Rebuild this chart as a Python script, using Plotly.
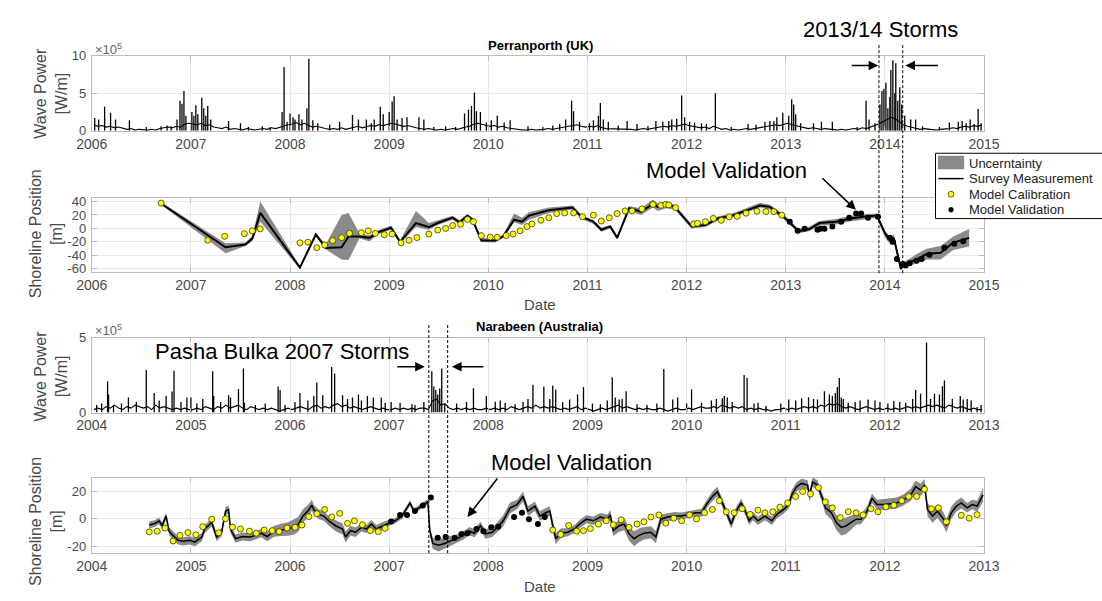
import plotly.graph_objects as go

W, H = 1102, 601
FONT = "Liberation Sans, Arial, Helvetica, sans-serif"
TXT = "#4a4a4a"

# ---------------- Perranporth (UK) ----------------
# background wave power, 24 samples per year (x1e5 W/m)
perran_years = list(range(2006, 2015))
perran_wp_bg = [
    [0.8, 0.6, 0.7, 0.5, 0.6, 0.4, 0.5, 0.3, 0.2, 0.3, 0.1, 0.2, 0.1, 0.1, 0.2, 0.1, 0.3, 0.4, 0.5, 0.4, 0.6, 0.5, 0.9, 1.0],
    [0.9, 0.8, 1.0, 0.7, 0.8, 0.5, 0.4, 0.3, 0.5, 0.2, 0.3, 0.2, 0.1, 0.3, 0.2, 0.1, 0.2, 0.3, 0.2, 0.4, 0.3, 0.5, 0.6, 0.8],
    [0.9, 1.1, 0.8, 1.0, 0.7, 0.5, 0.6, 0.4, 0.3, 0.2, 0.3, 0.2, 0.4, 0.2, 0.3, 0.5, 0.6, 0.4, 0.5, 0.7, 0.6, 0.8, 0.7, 0.9],
    [1.0, 0.9, 0.8, 0.6, 0.7, 0.5, 0.4, 0.3, 0.2, 0.3, 0.2, 0.1, 0.2, 0.1, 0.2, 0.3, 0.2, 0.4, 0.5, 0.6, 0.9, 1.0, 0.8, 0.7],
    [0.6, 0.7, 0.5, 0.6, 0.4, 0.3, 0.2, 0.2, 0.1, 0.1, 0.2, 0.1, 0.1, 0.2, 0.3, 0.2, 0.3, 0.4, 0.5, 0.6, 0.7, 0.8, 0.6, 0.5],
    [0.6, 0.5, 0.7, 0.4, 0.3, 0.3, 0.2, 0.3, 0.2, 0.3, 0.2, 0.1, 0.2, 0.3, 0.2, 0.3, 0.4, 0.5, 0.6, 0.5, 0.7, 0.6, 0.8, 0.9],
    [0.7, 0.6, 0.5, 0.4, 0.5, 0.3, 0.6, 0.4, 0.2, 0.3, 0.1, 0.2, 0.1, 0.2, 0.3, 0.2, 0.3, 0.4, 0.5, 0.6, 0.7, 0.8, 0.7, 0.9],
    [1.0, 0.8, 0.7, 0.5, 0.4, 0.3, 0.4, 0.3, 0.2, 0.3, 0.2, 0.1, 0.1, 0.2, 0.1, 0.2, 0.3, 0.2, 0.4, 0.3, 0.5, 0.6, 0.9, 1.2],
    [1.5, 1.8, 1.6, 1.2, 0.8, 0.6, 0.5, 0.3, 0.2, 0.3, 0.2, 0.1, 0.1, 0.2, 0.2, 0.3, 0.4, 0.3, 0.5, 0.6, 0.5, 0.7, 0.6, 0.8],
]
# storm peaks
perran_pk_t = [
    2006.03, 2006.07, 2006.13, 2006.19, 2006.24, 2006.38, 2006.55, 2006.70, 2006.76, 2006.80, 2006.86, 2006.89, 2006.91, 2006.93, 2006.95,
    2007.01, 2007.03, 2007.05, 2007.07, 2007.11, 2007.13, 2007.15, 2007.17, 2007.20, 2007.38, 2007.50, 2007.58, 2007.72, 2007.80, 2007.92, 2007.94, 2007.97,
    2008.00, 2008.03, 2008.05, 2008.09, 2008.12, 2008.17, 2008.19, 2008.23, 2008.28, 2008.40, 2008.50, 2008.63, 2008.69, 2008.77, 2008.82, 2008.85, 2008.91, 2008.94,
    2009.00, 2009.03, 2009.05, 2009.08, 2009.13, 2009.18, 2009.30, 2009.35, 2009.45, 2009.57, 2009.67, 2009.76, 2009.80, 2009.83, 2009.86, 2009.88, 2009.92, 2009.98,
    2010.03, 2010.09, 2010.16, 2010.22, 2010.40, 2010.55, 2010.65, 2010.72, 2010.78, 2010.84, 2010.86, 2010.92,
    2011.02, 2011.06, 2011.11, 2011.13, 2011.16, 2011.21, 2011.31, 2011.40, 2011.50, 2011.61, 2011.69, 2011.76, 2011.82, 2011.85, 2011.90, 2011.95, 2011.98,
    2012.03, 2012.08, 2012.15, 2012.20, 2012.29, 2012.45, 2012.62, 2012.70, 2012.79, 2012.84, 2012.88, 2012.91, 2012.97,
    2013.03, 2013.06, 2013.08, 2013.10, 2013.15, 2013.28, 2013.36, 2013.47, 2013.72, 2013.81, 2013.84, 2013.90, 2013.95, 2013.97, 2013.99,
    2014.01, 2014.03, 2014.05, 2014.06, 2014.08, 2014.10, 2014.11, 2014.13, 2014.15, 2014.17, 2014.20, 2014.26, 2014.31, 2014.38, 2014.55, 2014.65, 2014.74, 2014.78, 2014.82, 2014.86, 2014.90, 2014.94, 2014.97,
]
perran_pk_v = [
    1.7, 1.5, 3.2, 2.4, 1.5, 1.4, 0.5, 0.6, 0.7, 0.6, 1.5, 4.0, 3.6, 5.3, 2.0,
    2.5, 2.0, 3.4, 2.2, 4.4, 3.0, 2.0, 3.3, 1.5, 1.3, 1.0, 0.5, 0.6, 0.5, 2.5, 8.5, 1.2,
    2.3, 1.8, 1.5, 2.2, 1.5, 3.0, 9.6, 1.4, 1.0, 0.8, 1.2, 2.1, 1.5, 1.5, 1.0, 1.5, 3.2, 2.2,
    2.5, 3.9, 4.6, 1.5, 1.7, 1.8, 1.8, 1.5, 0.5, 0.6, 0.5, 2.3, 2.8, 3.3, 5.1, 2.6, 2.5, 1.1,
    1.4, 2.0, 1.1, 1.4, 0.6, 0.5, 0.7, 0.9, 1.5, 4.0, 2.6, 1.2,
    1.0, 1.4, 2.0, 3.7, 1.5, 1.2, 0.7, 1.3, 0.9, 0.6, 1.3, 1.2, 1.3, 1.5, 1.6, 4.7, 1.8,
    1.2, 1.1, 1.0, 0.9, 5.0, 0.5, 0.9, 0.8, 1.2, 1.3, 1.3, 1.8, 2.4,
    2.0, 4.2, 3.5, 2.2, 1.0, 1.0, 1.2, 1.2, 0.5, 4.0, 1.5, 1.0, 3.5, 5.3, 5.6,
    6.4, 3.0, 4.5, 8.1, 9.4, 5.0, 9.0, 4.0, 5.8, 3.5, 2.0, 1.5, 1.5, 0.6, 0.5, 1.1, 1.2, 1.3, 1.0, 1.5, 0.9, 2.9, 1.0,
]

# shoreline survey (m) with uncertainty envelope
perran_t = [
    2006.70, 2007.35, 2007.55, 2007.62, 2007.70, 2008.10, 2008.26, 2008.36, 2008.52, 2008.59,
    2008.70, 2008.80, 2008.90, 2009.02, 2009.11, 2009.27, 2009.40, 2009.49, 2009.64, 2009.71,
    2009.79, 2009.84, 2009.93, 2010.07, 2010.15, 2010.26, 2010.34, 2010.41, 2010.61, 2010.85,
    2010.94, 2011.06, 2011.14, 2011.23, 2011.30, 2011.42, 2011.54, 2011.66, 2011.71, 2011.79,
    2011.88, 2012.05, 2012.19, 2012.32, 2012.46, 2012.60, 2012.74, 2012.84, 2012.98, 2013.13,
    2013.24, 2013.34, 2013.51, 2013.63, 2013.76, 2013.92, 2014.00, 2014.06, 2014.09, 2014.12,
    2014.16, 2014.20, 2014.25, 2014.32, 2014.42, 2014.56, 2014.69, 2014.85,
]
perran_v = [
    37, -28, -24, -15, 23, -58, -9, -29, -28, -12,
    -12, -14, -5, 1, -20, 8, 2, 8, 16, 9,
    19, 13, -18, -18, -12, 13, 10, 19, 27, 31,
    17, 10, -2, 3, -14, 30, 25, 36, 32, 35,
    32, 3, 5, 15, 19, 27, 34, 32, 17, -4,
    -1, 8, 10, 14, 17, 19, -7, -19, -14, -33,
    -60, -53, -50, -46, -38, -36, -21, -14,
]
perran_lo = [
    35, -37, -26, -19, 10, -60, -12, -31, -46, -47,
    -15, -19, -8, -2, -23, 2, -2, 5, 13, 6,
    15, 9, -20, -21, -14, 9, 5, 13, 23, 28,
    14, 7, -5, 0, -16, 26, 20, 31, 26, 30,
    28, 0, 2, 12, 16, 24, 31, 28, 14, -7,
    -4, 4, 6, 10, 13, 16, -13, -25, -20, -38,
    -62, -56, -55, -52, -46, -46, -32, -27,
]
perran_hi = [
    39, -22, -21, -11, 40, -56, -7, -24, 20, 23,
    -7, -10, -2, 4, -18, 26, 8, 12, 19, 12,
    21, 16, -14, -16, -9, 22, 16, 24, 31, 34,
    20, 12, 1, 5, -11, 33, 30, 43, 37, 40,
    35, 6, 8, 18, 22, 30, 38, 35, 21, -1,
    3, 11, 14, 18, 21, 22, -3, -14, -9, -29,
    -57, -49, -45, -38, -30, -26, -12, -1,
]
perran_cal_t = [
    2006.70, 2007.17, 2007.34, 2007.54, 2007.62, 2007.70, 2008.10, 2008.18, 2008.27, 2008.35,
    2008.43, 2008.52, 2008.60, 2008.72, 2008.79, 2008.86, 2008.95, 2009.03, 2009.12, 2009.20,
    2009.28, 2009.40, 2009.49, 2009.57, 2009.64, 2009.72, 2009.79, 2009.85, 2009.93, 2010.02,
    2010.09, 2010.18, 2010.25, 2010.32, 2010.39, 2010.44, 2010.53, 2010.61, 2010.69, 2010.77,
    2010.86, 2010.95, 2011.06, 2011.14, 2011.22, 2011.30, 2011.38, 2011.45, 2011.55, 2011.66,
    2011.74, 2011.79, 2011.82, 2011.89, 2012.07, 2012.11, 2012.19, 2012.27, 2012.35, 2012.43,
    2012.51, 2012.60, 2012.71, 2012.80, 2012.88, 2012.96,
]
perran_cal_v = [
    37.6, -17.5, -11.7, -7.8, -3.5, -0.6, -21.4, -20.4, -28.6, -24.7,
    -18.0, -13.6, -7.3, -6.4, -3.5, -7.3, -9.3, -8.3, -21.4, -17.5,
    -13.6, -8.3, -2.5, 0.0, 4.3, 6.2, 13.4, 10.0, -10.7, -12.7,
    -13.1, -10.7, -8.3, -3.5, 2.8, 6.7, 12.0, 15.8, 22.0, 23.0,
    23.0, 17.3, 19.7, 11.0, 15.8, 22.0, 26.0, 26.0, 29.0, 35.7,
    34.2, 35.7, 35.0, 30.8, 6.7, 7.6, 10.0, 14.9, 12.0, 17.3,
    17.8, 22.6, 25.5, 25.0, 25.0, 19.7,
]
perran_val_t = [
    2013.04, 2013.12, 2013.19, 2013.32, 2013.35, 2013.39, 2013.47, 2013.56, 2013.64, 2013.71,
    2013.76, 2013.83, 2013.93, 2014.05, 2014.08, 2014.12, 2014.18, 2014.21, 2014.25, 2014.32,
    2014.37, 2014.45, 2014.60, 2014.70, 2014.79,
]
perran_val_v = [
    10.0, -3.5, -0.6, -2.0, -0.6, -0.6, 2.8, 10.0, 15.8, 22.0,
    22.0, 15.8, 17.3, -14.0, -19.9, -45.5, -52.8, -55.0, -51.8, -48.0,
    -45.5, -39.0, -28.6, -22.8, -19.0,
]

# ---------------- Narrabeen (Australia) ----------------
narra_years = list(range(2004, 2013))
narra_wp_bg = [
    [0.2, 0.3, 0.2, 0.4, 0.3, 0.5, 0.3, 0.2, 0.4, 0.3, 0.5, 0.4, 0.3, 0.4, 0.2, 0.5, 0.3, 0.4, 0.3, 0.2, 0.3, 0.2, 0.3, 0.2],
    [0.2, 0.3, 0.2, 0.4, 0.3, 0.2, 0.4, 0.3, 0.5, 0.3, 0.4, 0.5, 0.3, 0.2, 0.4, 0.3, 0.2, 0.3, 0.2, 0.3, 0.2, 0.1, 0.2, 0.3],
    [0.2, 0.3, 0.4, 0.3, 0.2, 0.4, 0.5, 0.3, 0.4, 0.3, 0.5, 0.6, 0.4, 0.5, 0.3, 0.4, 0.3, 0.2, 0.3, 0.4, 0.3, 0.2, 0.3, 0.2],
    [0.2, 0.3, 0.2, 0.3, 0.2, 0.3, 0.2, 0.3, 0.3, 0.2, 0.8, 0.9, 0.5, 0.6, 0.3, 0.2, 0.3, 0.2, 0.3, 0.2, 0.3, 0.2, 0.2, 0.3],
    [0.2, 0.3, 0.2, 0.3, 0.2, 0.4, 0.3, 0.2, 0.3, 0.4, 0.3, 0.5, 0.3, 0.4, 0.3, 0.4, 0.3, 0.2, 0.3, 0.2, 0.3, 0.4, 0.2, 0.3],
    [0.2, 0.1, 0.2, 0.3, 0.2, 0.3, 0.4, 0.5, 0.3, 0.4, 0.3, 0.2, 0.3, 0.2, 0.3, 0.2, 0.2, 0.3, 0.2, 0.1, 0.2, 0.3, 0.2, 0.2],
    [0.3, 0.2, 0.3, 0.4, 0.3, 0.3, 0.4, 0.3, 0.5, 0.4, 0.3, 0.4, 0.3, 0.4, 0.2, 0.3, 0.2, 0.3, 0.2, 0.2, 0.1, 0.2, 0.2, 0.3],
    [0.2, 0.3, 0.2, 0.3, 0.4, 0.3, 0.4, 0.3, 0.5, 0.4, 0.6, 0.5, 0.6, 0.4, 0.3, 0.4, 0.3, 0.2, 0.3, 0.4, 0.3, 0.2, 0.3, 0.2],
    [0.3, 0.2, 0.3, 0.2, 0.3, 0.4, 0.3, 0.4, 0.3, 0.4, 0.5, 0.4, 0.5, 0.4, 0.3, 0.5, 0.4, 0.3, 0.4, 0.3, 0.2, 0.3, 0.2, 0.2],
]
narra_pk_t = [
    2004.05, 2004.10, 2004.16, 2004.17, 2004.22, 2004.30, 2004.37, 2004.45, 2004.55, 2004.63, 2004.68, 2004.75, 2004.81, 2004.83, 2004.90, 2004.96,
    2005.00, 2005.06, 2005.12, 2005.22, 2005.23, 2005.30, 2005.38, 2005.40, 2005.48, 2005.53, 2005.54, 2005.65, 2005.75, 2005.88, 2005.90, 2005.95,
    2006.05, 2006.10, 2006.18, 2006.24, 2006.27, 2006.33, 2006.42, 2006.45, 2006.53, 2006.58, 2006.63, 2006.69, 2006.72, 2006.78, 2006.84, 2006.92, 2006.96,
    2007.02, 2007.11, 2007.23, 2007.26, 2007.35, 2007.43, 2007.45, 2007.47, 2007.49, 2007.51, 2007.53, 2007.56, 2007.68, 2007.78, 2007.85, 2007.98,
    2008.07, 2008.12, 2008.17, 2008.27, 2008.35, 2008.40, 2008.45, 2008.56, 2008.62, 2008.65, 2008.68, 2008.75, 2008.82, 2008.90, 2008.96,
    2009.05, 2009.13, 2009.20, 2009.25, 2009.28, 2009.32, 2009.35, 2009.39, 2009.50, 2009.60, 2009.70, 2009.77, 2009.86, 2009.91,
    2010.00, 2010.05, 2010.15, 2010.25, 2010.30, 2010.36, 2010.38, 2010.41, 2010.46, 2010.58, 2010.61, 2010.68, 2010.72, 2010.80, 2010.95,
    2011.03, 2011.10, 2011.16, 2011.23, 2011.28, 2011.32, 2011.39, 2011.44, 2011.47, 2011.50, 2011.52, 2011.54, 2011.56, 2011.58, 2011.63, 2011.70, 2011.75, 2011.83, 2011.90, 2011.95,
    2012.03, 2012.09, 2012.15, 2012.21, 2012.28, 2012.31, 2012.36, 2012.42, 2012.46, 2012.50, 2012.55, 2012.58, 2012.60, 2012.68, 2012.76, 2012.79, 2012.83, 2012.87, 2012.93, 2012.97,
]
narra_pk_v = [
    0.5, 0.6, 2.07, 1.2, 0.5, 0.6, 1.0, 0.7, 2.83, 1.3, 0.8, 1.1, 1.4, 2.78, 0.7, 1.0,
    1.0, 0.6, 0.9, 2.76, 1.1, 0.7, 1.15, 1.0, 1.57, 2.93, 0.65, 0.5, 0.6, 1.74, 1.5, 0.5,
    0.7, 1.3, 0.8, 1.1, 2.0, 1.15, 3.04, 2.6, 1.15, 0.9, 1.0, 1.2, 0.8, 1.1, 1.0, 1.0, 0.65,
    0.7, 0.65, 0.55, 0.5, 0.7, 2.76, 1.74, 1.5, 1.2, 1.6, 2.93, 0.55, 0.6, 0.7, 1.63, 1.1,
    0.72, 0.8, 0.65, 0.55, 0.7, 0.9, 1.85, 1.74, 0.9, 1.8, 1.54, 0.7, 0.88, 1.2, 1.7,
    0.6, 0.55, 0.8, 2.36, 1.0, 0.88, 0.9, 1.43, 0.55, 0.5, 0.6, 2.9, 0.88, 1.0,
    0.6, 1.54, 0.66, 0.8, 0.9, 0.95, 1.1, 1.0, 0.7, 2.5, 2.3, 0.6, 0.66, 0.44, 0.6,
    0.88, 0.8, 0.95, 1.03, 0.9, 0.88, 1.43, 1.2, 1.1, 1.3, 1.7, 2.3, 1.0, 0.9, 0.66, 0.7, 0.8, 0.88, 0.8, 0.7,
    0.6, 0.77, 0.7, 0.66, 0.9, 1.5, 1.25, 4.67, 0.9, 1.25, 1.2, 1.76, 2.14, 0.9, 1.1, 0.88, 0.9, 0.8, 0.37, 0.5,
]

narra_t = [
    2004.58, 2004.64, 2004.68, 2004.71, 2004.75, 2004.78, 2004.82, 2004.87, 2004.92, 2004.99,
    2005.04, 2005.11, 2005.14, 2005.21, 2005.26, 2005.31, 2005.35, 2005.38, 2005.40, 2005.45,
    2005.52, 2005.60, 2005.65, 2005.71, 2005.77, 2005.84, 2005.91, 2005.98, 2006.03, 2006.08,
    2006.13, 2006.18, 2006.22, 2006.24, 2006.29, 2006.34, 2006.39, 2006.46, 2006.53, 2006.56,
    2006.61, 2006.66, 2006.72, 2006.77, 2006.82, 2006.87, 2006.94, 2007.01, 2007.06, 2007.13,
    2007.21, 2007.25, 2007.30, 2007.35, 2007.39, 2007.41, 2007.44, 2007.50, 2007.56, 2007.63,
    2007.68, 2007.75, 2007.81, 2007.86, 2007.92, 2007.97, 2008.04, 2008.09, 2008.15, 2008.22,
    2008.29, 2008.35, 2008.40, 2008.47, 2008.52, 2008.58, 2008.62, 2008.65, 2008.68, 2008.73,
    2008.80, 2008.87, 2008.92, 2008.99, 2009.06, 2009.13, 2009.20, 2009.23, 2009.26, 2009.32,
    2009.37, 2009.42, 2009.47, 2009.52, 2009.57, 2009.64, 2009.69, 2009.74, 2009.81, 2009.88,
    2009.95, 2010.02, 2010.09, 2010.15, 2010.21, 2010.26, 2010.31, 2010.34, 2010.39, 2010.45,
    2010.50, 2010.55, 2010.60, 2010.63, 2010.67, 2010.72, 2010.79, 2010.86, 2010.91, 2010.98,
    2011.03, 2011.06, 2011.11, 2011.16, 2011.22, 2011.24, 2011.27, 2011.32, 2011.37, 2011.40,
    2011.46, 2011.51, 2011.56, 2011.61, 2011.66, 2011.71, 2011.76, 2011.82, 2011.87, 2011.92,
    2011.99, 2012.05, 2012.12, 2012.19, 2012.26, 2012.31, 2012.36, 2012.40, 2012.43, 2012.48,
    2012.53, 2012.59, 2012.62, 2012.67, 2012.72, 2012.77, 2012.83, 2012.88, 2012.93, 2012.99,
]
narra_v = [
    -4.5, -3.3, -1.4, -5.0, 2.1, -9.0, -12.1, -15.7, -16.4, -15.7,
    -17.0, -13.3, -7.4, -2.6, -13.3, -9.8, 5.7, 6.9, -7.4, -14.5,
    -12.9, -13.3, -12.1, -10.5, -12.9, -9.0, -8.1, -7.4, -6.2, -4.3,
    2.1, 5.7, 10.0, 6.7, 3.3, 2.1, -1.4, -5.0, -7.4, -13.3,
    -8.6, -9.8, -6.2, -7.4, -3.8, -7.4, -5.0, -2.6, -1.4, 2.1,
    11.7, 5.7, 8.1, 10.5, 12.5, -8.6, -18.0, -19.3, -18.0, -15.7,
    -14.5, -12.1, -9.0, -10.5, -5.0, -11.0, -9.8, -6.2, -1.4, 8.1,
    10.5, 16.4, 5.7, 9.3, 2.1, 4.5, 5.7, -5.0, -14.5, -10.5,
    -9.8, -7.4, -3.8, -0.2, -1.4, 1.4, -0.2, 2.9, -8.6, -5.0,
    -3.8, -11.0, -14.5, -12.1, -10.5, -9.8, -13.3, -0.2, 1.4, 2.1,
    2.1, 3.3, 4.5, 4.5, 11.7, 16.4, 20.0, 15.2, 6.9, -3.8,
    5.7, 11.7, 4.5, -1.4, 2.1, -1.4, 2.1, -1.4, 3.3, 6.9,
    10.5, 17.6, 23.6, 26.0, 24.8, 16.4, 27.0, 24.8, 15.2, 8.1,
    4.5, -2.6, -6.2, -5.0, -2.6, -0.2, -0.2, 5.7, 15.2, 10.5,
    10.5, 11.0, 11.7, 14.0, 17.6, 23.6, 21.2, 24.8, 6.9, 2.1,
    5.7, -0.2, -5.0, 4.5, 9.3, 11.7, 8.1, 10.5, 9.3, 17.6,
]
# half-width of the uncertainty envelope (m)
narra_hw = [
    2.5, 2.5, 2.5, 2.5, 2.5, 3.0, 3.0, 3.0, 3.0, 3.0,
    3.0, 3.0, 3.0, 3.0, 3.0, 3.0, 3.0, 3.0, 3.0, 3.0,
    3.0, 3.0, 3.0, 3.0, 3.5, 4.0, 4.5, 5.0, 5.5, 5.5,
    5.0, 4.5, 4.0, 3.5, 3.5, 3.5, 3.5, 4.0, 4.0, 4.0,
    3.5, 3.5, 3.0, 3.0, 3.0, 3.0, 3.0, 2.0, 2.0, 2.0,
    2.0, 2.0, 2.0, 2.0, 2.0, 3.0, 4.0, 4.5, 4.0, 3.5,
    3.0, 3.0, 3.0, 3.0, 3.0, 3.5, 3.5, 3.5, 4.0, 4.0,
    3.5, 3.5, 3.5, 3.5, 3.5, 3.5, 3.5, 4.0, 4.0, 3.5,
    3.0, 3.0, 3.0, 3.0, 3.0, 3.0, 3.5, 3.5, 4.0, 4.5,
    4.5, 5.0, 5.5, 5.0, 4.5, 4.5, 4.5, 3.5, 3.0, 3.0,
    2.5, 2.5, 2.5, 3.0, 3.0, 3.5, 3.5, 3.5, 3.0, 3.5,
    3.0, 3.0, 3.0, 3.0, 3.0, 3.0, 3.0, 3.0, 3.0, 3.0,
    3.0, 3.5, 3.5, 3.5, 3.5, 4.0, 3.5, 3.5, 4.0, 4.5,
    5.0, 5.5, 6.0, 6.0, 5.0, 4.0, 3.5, 3.5, 3.5, 3.5,
    4.0, 4.0, 4.0, 4.0, 4.5, 4.5, 4.5, 4.5, 5.0, 5.0,
    5.0, 5.0, 5.0, 4.5, 4.0, 4.0, 3.5, 3.5, 4.0, 5.0,
]
narra_cal_t = [
    2004.58, 2004.66, 2004.74, 2004.82, 2004.89, 2004.97, 2005.05, 2005.12, 2005.21, 2005.28,
    2005.35, 2005.42, 2005.50, 2005.59, 2005.66, 2005.74, 2005.82, 2005.89, 2005.97, 2006.05,
    2006.12, 2006.19, 2006.27, 2006.35, 2006.42, 2006.50, 2006.58, 2006.65, 2006.73, 2006.81,
    2006.89, 2006.96,
    2008.65, 2008.73, 2008.81, 2008.89, 2008.96, 2009.03, 2009.11, 2009.19, 2009.26, 2009.34,
    2009.42, 2009.50, 2009.57, 2009.64, 2009.72, 2009.79, 2009.87, 2009.95, 2010.03, 2010.10,
    2010.18, 2010.26, 2010.33, 2010.40, 2010.48, 2010.56, 2010.64, 2010.72, 2010.79, 2010.87,
    2010.94, 2011.02, 2011.10, 2011.17, 2011.25, 2011.33, 2011.40, 2011.47, 2011.55, 2011.63,
    2011.71, 2011.78, 2011.86, 2011.93, 2012.01, 2012.09, 2012.17, 2012.24, 2012.32, 2012.40,
    2012.47, 2012.54, 2012.62, 2012.77, 2012.85, 2012.93,
]
narra_cal_v = [
    -9.5, -9.0, -6.7, -16.2, -12.1, -10.0, -11.7, -5.7, -0.2, -10.2,
    0.2, -6.0, -7.4, -9.0, -10.5, -8.1, -8.6, -9.3, -6.7, -6.2,
    -4.5, 1.7, 3.8, 6.9, 1.4, 4.0, -3.3, -1.4, -4.3, -8.6,
    -9.3, -6.9,
    -8.1, -11.4, -4.8, -9.0, -8.6, -7.1, -3.8, -1.4, -4.3, -0.7,
    -6.2, -3.8, -2.1, 1.4, 2.9, -3.1, 0.5, -1.4, 2.9, 0.0,
    4.5, 6.9, 13.3, 5.2, 4.5, 7.4, 3.3, 6.4, 4.5, 5.2,
    8.6, 11.7, 16.4, 20.0, 18.3, 22.9, 12.4, 8.1, 1.0, 5.2,
    4.5, 2.9, 7.4, 5.2, 8.8, 10.0, 13.3, 16.4, 16.4, 21.7,
    7.4, 8.1, -2.1, 2.6, 0.5, 3.1,
]
narra_val_t = [
    2007.02, 2007.11, 2007.18, 2007.26, 2007.34, 2007.42, 2007.49, 2007.57, 2007.66, 2007.73,
    2007.79, 2007.88, 2007.95, 2008.03, 2008.10, 2008.26, 2008.34, 2008.41, 2008.50, 2008.57,
]
narra_val_v = [
    -1.9, 2.9, 2.9, 5.7, 9.8, 15.7, -13.8, -13.3, -14.0, -11.0,
    -10.5, -7.4, -9.0, -6.2, -5.7, 1.4, 4.5, -0.2, -3.8, 1.4,
]

# storm windows marked by dashed lines
perran_storm = [2013.94, 2014.18]
narra_storm = [2007.40, 2007.59]

legend_labels = ["Uncerntainty", "Survey Measurement", "Model Calibration", "Model Validation"]

assert len(perran_pk_t) == len(perran_pk_v)
assert len(narra_pk_t) == len(narra_pk_v)
assert len(perran_t) == len(perran_v) == len(perran_lo) == len(perran_hi)
assert len(narra_t) == len(narra_v) == len(narra_hw)
assert len(perran_cal_t) == len(perran_cal_v) and len(narra_cal_t) == len(narra_cal_v)


def fx(px):
    return px / W


def fy(py):
    return 1 - py / H


BAND = "rgb(138,138,138)"
YEL = "#ffff00"
fig = go.Figure()


def add_wave(xa, ya, years, bg, pk_t, pk_v):
    bx = [yr + (i + 0.5) / len(row) for yr, row in zip(years, bg) for i in range(len(row))]
    by = [v for row in bg for v in row]
    fig.add_trace(go.Scatter(x=bx, y=by, mode="lines", line=dict(color="black", width=1.1),
                             xaxis=xa, yaxis=ya, showlegend=False, hoverinfo="skip"))
    sx, sy = [], []
    for t, v in zip(pk_t, pk_v):
        sx += [t, t, None]
        sy += [0, v, None]
    fig.add_trace(go.Scatter(x=sx, y=sy, mode="lines", line=dict(color="black", width=1.3),
                             xaxis=xa, yaxis=ya, showlegend=False, hoverinfo="skip"))


def add_shore(xa, ya, t, v, lo, hi, cal_t, cal_v, val_t, val_v, lw):
    fig.add_trace(go.Scatter(x=t + t[::-1], y=hi + lo[::-1], fill="toself",
                             fillcolor=BAND, line=dict(width=0), mode="lines",
                             showlegend=False, xaxis=xa, yaxis=ya, hoverinfo="skip"))
    fig.add_trace(go.Scatter(x=t, y=v, mode="lines", line=dict(color="black", width=lw),
                             showlegend=False, xaxis=xa, yaxis=ya))
    fig.add_trace(go.Scatter(x=cal_t, y=cal_v, mode="markers",
                             marker=dict(color=YEL, size=6, line=dict(color="#3a3a00", width=0.8)),
                             showlegend=False, xaxis=xa, yaxis=ya))
    fig.add_trace(go.Scatter(x=val_t, y=val_v, mode="markers",
                             marker=dict(color="black", size=6),
                             showlegend=False, xaxis=xa, yaxis=ya))


add_wave("x", "y", perran_years, perran_wp_bg, perran_pk_t, perran_pk_v)
add_shore("x2", "y2", perran_t, perran_v, perran_lo, perran_hi,
          perran_cal_t, perran_cal_v, perran_val_t, perran_val_v, 2)
add_wave("x3", "y3", narra_years, narra_wp_bg, narra_pk_t, narra_pk_v)
narra_lo = [v - h for v, h in zip(narra_v, narra_hw)]
narra_hi = [v + h for v, h in zip(narra_v, narra_hw)]
add_shore("x4", "y4", narra_t, narra_v, narra_lo, narra_hi,
          narra_cal_t, narra_cal_v, narra_val_t, narra_val_v, 1.5)

AX_LINE = "#bdbdbd"
GRID = "#e9e9e9"
X_DOM = [fx(78), fx(997)]


def xax(y0, anchor):
    yrs = list(range(y0, y0 + 10))
    return dict(domain=X_DOM, range=[y0, y0 + 9], anchor=anchor, tickvals=yrs,
                ticktext=[str(y) for y in yrs], ticks="inside", ticklen=5, tickcolor=AX_LINE,
                showline=True, linecolor=AX_LINE, linewidth=1, mirror="ticks",
                showgrid=True, gridcolor=GRID, zeroline=False, ticklabelstandoff=0,
                tickfont=dict(size=14, color=TXT, family=FONT))


def yax(dom, rng, vals, anchor):
    return dict(domain=dom, range=rng, anchor=anchor, tickvals=vals,
                ticktext=[str(v) for v in vals], ticks="inside", ticklen=5, tickcolor=AX_LINE,
                showline=True, linecolor=AX_LINE, linewidth=1, mirror="ticks",
                showgrid=True, gridcolor=GRID, zeroline=False, ticklabelstandoff=2,
                tickfont=dict(size=13, color=TXT, family=FONT))


fig.update_layout(
    width=W, height=H, autosize=False,
    margin=dict(l=0, r=0, t=0, b=0, pad=0),
    paper_bgcolor="white", plot_bgcolor="white",
    font=dict(family=FONT, color=TXT),
    xaxis=xax(2006, "y"),
    yaxis=yax([fy(127), fy(50)], [0, 10], [0, 5, 10], "x"),
    xaxis2=xax(2006, "y2"),
    yaxis2=yax([fy(272), fy(196)], [-65, 45], [-60, -40, -20, 0, 20, 40], "x2"),
    xaxis3=xax(2004, "y3"),
    yaxis3=yax([fy(416), fy(339)], [0, 5], [0, 5], "x3"),
    xaxis4=xax(2004, "y4"),
    yaxis4=yax([fy(560), fy(483)], [-25, 30], [-20, 0, 20], "x4"),
    showlegend=False,
)

# dashed storm-window markers
for t in perran_storm:
    fig.add_shape(type="line", xref="x", yref="paper", x0=t, x1=t, y0=fy(273), y1=fy(39),
                  line=dict(color="black", width=1, dash="3px,2px"))
for t in narra_storm:
    fig.add_shape(type="line", xref="x3", yref="paper", x0=t, x1=t, y0=fy(560), y1=fy(325),
                  line=dict(color="black", width=1, dash="3px,2px"))


def text(px, py, s, size, color="black", bold=False, angle=0, xanchor="center"):
    fig.add_annotation(x=fx(px), y=fy(py), xref="paper", yref="paper", text=f"<b>{s}</b>" if bold else s,
                       showarrow=False, textangle=angle, xanchor=xanchor, yanchor="middle",
                       font=dict(size=size, color=color, family=FONT))


def arrow(hx, hy, tx, ty):
    fig.add_annotation(x=fx(hx), y=fy(hy), xref="paper", yref="paper", text="",
                       showarrow=True, ax=tx - hx, ay=ty - hy, arrowhead=2, arrowsize=1.2,
                       arrowwidth=1.6, arrowcolor="black")


# legend box for the shoreline panels
fig.add_shape(type="rect", xref="paper", yref="paper", x0=fx(947), x1=fx(1140), y0=fy(217), y1=fy(150),
              line=dict(color="black", width=1), fillcolor="white", layer="above")
fig.add_shape(type="rect", xref="paper", yref="paper", x0=fx(950), x1=fx(976), y0=fy(166), y1=fy(153),
              line=dict(color="rgb(100,100,100)", width=0.6), fillcolor=BAND, layer="above")
fig.add_shape(type="line", xref="paper", yref="paper", x0=fx(950), x1=fx(976), y0=fy(176), y1=fy(176),
              line=dict(color="black", width=1.5), layer="above")
fig.add_shape(type="circle", xref="paper", yref="paper", x0=fx(960), x1=fx(966), y0=fy(195), y1=fy(189),
              line=dict(color="#3a3a00", width=0.8), fillcolor=YEL, layer="above")
fig.add_shape(type="circle", xref="paper", yref="paper", x0=fx(960.5), x1=fx(965.5), y0=fy(210.5), y1=fy(205.5),
              line=dict(color="black", width=0.5), fillcolor="black", layer="above")
for i, lab in enumerate(legend_labels):
    text(979, 160 + 16 * i, lab, 13, color="#222", xanchor="left")

# panel titles
text(540, 39, "Perranporth (UK)", 13, bold=True)
text(539, 328, "Narabeen (Australia)", 13, bold=True)

# exponent labels
text(79, 43, "×10<sup>5</sup>", 13, color="#666", xanchor="left")
text(79, 331, "×10<sup>5</sup>", 13, color="#666", xanchor="left")

# axis titles
text(36, 88, "Wave Power<br>[W/m]", 16, color=TXT, angle=-90)
text(31, 233, "Shoreline Position<br>[m]", 16, color=TXT, angle=-90)
text(36, 378, "Wave Power<br>[W/m]", 16, color=TXT, angle=-90)
text(31, 528, "Shoreline Position<br>[m]", 16, color=TXT, angle=-90)
text(540, 305, "Date", 15, color=TXT)
text(540, 594, "Date", 15, color=TXT)

# storm and validation callouts
text(890, 23, "2013/14 Storms", 22)
arrow(888, 60, 860, 60)
arrow(916, 60, 950, 60)
text(732, 168, "Model Validation", 22)
arrow(865, 208, 830, 175)
text(274, 353, "Pasha Bulka 2007 Storms", 22)
arrow(421, 369, 392, 369)
arrow(449, 369, 482, 369)
text(572, 467, "Model Validation", 22)
arrow(465, 523, 496, 483)

fig.write_html("out.html")
